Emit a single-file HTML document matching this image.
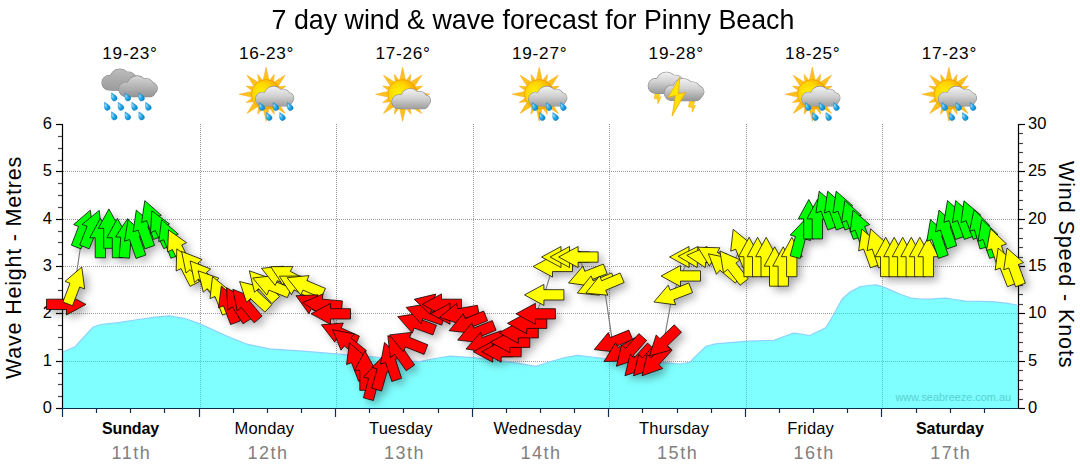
<!DOCTYPE html>
<html><head><meta charset="utf-8"><title>7 day wind &amp; wave forecast</title>
<style>
html,body{margin:0;padding:0;background:#fff;}
body{width:1080px;height:475px;position:relative;overflow:hidden;font-family:"Liberation Sans",sans-serif;color:#000;}
.title{position:absolute;left:0;top:2.8px;width:1066px;text-align:center;font-size:28px;line-height:34px;white-space:nowrap;transform:scaleX(0.957);transform-origin:532.5px 0;}
.day{position:absolute;top:419px;width:140px;text-align:center;font-size:16.5px;line-height:19px;letter-spacing:0.15px;}
.day.b{font-weight:bold;font-size:16px;letter-spacing:-0.1px;}
.dn{position:absolute;top:443.6px;width:140px;text-align:center;font-size:18px;line-height:19px;color:#808080;letter-spacing:1.5px;text-indent:1.5px;}
.tp{position:absolute;top:43.1px;width:140px;text-align:center;font-size:17.2px;line-height:20px;letter-spacing:0.75px;text-indent:0.75px;}
.yl{position:absolute;left:20px;width:32px;text-align:right;font-size:16.5px;line-height:20px;}
.yr{position:absolute;left:1028px;width:40px;text-align:left;font-size:16.5px;line-height:20px;}
.vl{position:absolute;font-size:21.5px;line-height:24px;white-space:nowrap;transform-origin:0 0;}
</style></head><body>
<div class="title">7 day wind &amp; wave forecast for Pinny Beach</div>
<div class="day b" style="left:60.5px">Sunday</div>
<div class="dn" style="left:60.6px">11th</div>
<div class="tp" style="left:59.6px">19-23°</div>
<div class="day" style="left:194.4px">Monday</div>
<div class="dn" style="left:197.2px">12th</div>
<div class="tp" style="left:196.2px">16-23°</div>
<div class="day" style="left:330.9px">Tuesday</div>
<div class="dn" style="left:333.7px">13th</div>
<div class="tp" style="left:332.7px">17-26°</div>
<div class="day" style="left:467.5px">Wednesday</div>
<div class="dn" style="left:470.3px">14th</div>
<div class="tp" style="left:469.3px">19-27°</div>
<div class="day" style="left:604.1px">Thursday</div>
<div class="dn" style="left:606.9px">15th</div>
<div class="tp" style="left:605.9px">19-28°</div>
<div class="day" style="left:740.6px">Friday</div>
<div class="dn" style="left:743.4px">16th</div>
<div class="tp" style="left:742.4px">18-25°</div>
<div class="day b" style="left:879.9px">Saturday</div>
<div class="dn" style="left:880.0px">17th</div>
<div class="tp" style="left:879.0px">17-23°</div>
<div class="yl" style="top:397.1px">0</div>
<div class="yl" style="top:349.8px">1</div>
<div class="yl" style="top:302.4px">2</div>
<div class="yl" style="top:255.1px">3</div>
<div class="yl" style="top:207.8px">4</div>
<div class="yl" style="top:160.4px">5</div>
<div class="yl" style="top:113.1px">6</div>
<div class="yr" style="top:397.1px">0</div>
<div class="yr" style="top:349.8px">5</div>
<div class="yr" style="top:302.4px">10</div>
<div class="yr" style="top:255.1px">15</div>
<div class="yr" style="top:207.8px">20</div>
<div class="yr" style="top:160.4px">25</div>
<div class="yr" style="top:113.1px">30</div>
<div class="vl" style="left:2px;top:378.5px;transform:rotate(-90deg);letter-spacing:0.8px;">Wave Height - Metres</div>
<div class="vl" style="left:1078px;top:161px;transform:rotate(90deg);letter-spacing:0.9px;">Wind Speed - Knots</div>
<svg width="1080" height="475" viewBox="0 0 1080 475" style="position:absolute;left:0;top:0">
<defs>
<filter id="sh" x="-5%" y="-20%" width="110%" height="140%"><feGaussianBlur in="SourceAlpha" stdDeviation="4.2"/><feOffset dx="4" dy="4"/><feComponentTransfer><feFuncA type="linear" slope="0.34"/></feComponentTransfer></filter>

<linearGradient id="cgL" gradientUnits="userSpaceOnUse" x1="0" y1="0" x2="0" y2="21"><stop offset="0" stop-color="#f2f2f2"/><stop offset="0.45" stop-color="#d2d2d2"/><stop offset="1" stop-color="#9a9a9a"/></linearGradient>
<linearGradient id="cgD" gradientUnits="userSpaceOnUse" x1="0" y1="0" x2="0" y2="23"><stop offset="0" stop-color="#d6d6d6"/><stop offset="0.5" stop-color="#b2b2b2"/><stop offset="1" stop-color="#8e8e8e"/></linearGradient>
<linearGradient id="cgB" gradientUnits="userSpaceOnUse" x1="0" y1="0" x2="0" y2="23"><stop offset="0" stop-color="#bcbcbc"/><stop offset="1" stop-color="#989898"/></linearGradient>
<radialGradient id="sung" cx="0.36" cy="0.45" r="0.68"><stop offset="0" stop-color="#fff200"/><stop offset="0.5" stop-color="#ffd400"/><stop offset="0.85" stop-color="#f8aa00"/><stop offset="1" stop-color="#f09000"/></radialGradient>
<radialGradient id="dropg" cx="0.35" cy="0.35" r="0.7"><stop offset="0" stop-color="#9fe0ff"/><stop offset="0.5" stop-color="#2aa8e6"/><stop offset="1" stop-color="#0a86cc"/></radialGradient>
<linearGradient id="boltg" x1="0" y1="0" x2="1" y2="1"><stop offset="0" stop-color="#fff200"/><stop offset="0.6" stop-color="#ffe000"/><stop offset="1" stop-color="#f5a800"/></linearGradient>
<filter id="ib" x="-10%" y="-10%" width="120%" height="120%"><feGaussianBlur stdDeviation="0.35"/></filter>
</defs>
<g stroke="#808080" stroke-width="1" stroke-dasharray="1,1" opacity="0.8"><line x1="63" y1="361.5" x2="1018" y2="361.5"/><line x1="63" y1="313.5" x2="1018" y2="313.5"/><line x1="63" y1="266.5" x2="1018" y2="266.5"/><line x1="63" y1="219.5" x2="1018" y2="219.5"/><line x1="63" y1="171.5" x2="1018" y2="171.5"/><line x1="200.5" y1="124" x2="200.5" y2="408"/><line x1="336.5" y1="124" x2="336.5" y2="408"/><line x1="473.5" y1="124" x2="473.5" y2="408"/><line x1="609.5" y1="124" x2="609.5" y2="408"/><line x1="746.5" y1="124" x2="746.5" y2="408"/><line x1="882.5" y1="124" x2="882.5" y2="408"/></g>
<path d="M62.5,408.5 L62.0,352.3 L75.2,346.7 L84.0,337.0 L92.9,327.3 L100.5,324.5 L118.0,322.7 L138.4,319.5 L155.0,317.2 L169.4,315.8 L185.0,318.5 L200.0,323.9 L225.0,335.3 L247.0,344.2 L269.4,348.9 L302.8,351.1 L336.0,353.9 L380.6,357.5 L405.0,360.8 L419.4,361.7 L435.0,358.5 L450.0,356.1 L472.2,357.5 L495.0,360.0 L511.0,362.2 L536.0,366.4 L550.0,361.7 L565.0,357.5 L577.8,355.3 L592.0,357.0 L605.6,358.9 L630.0,361.5 L650.0,363.0 L666.7,362.8 L680.0,364.0 L689.7,362.4 L697.0,355.0 L706.0,346.2 L715.6,343.9 L744.8,341.3 L774.0,340.3 L784.0,336.5 L793.4,333.2 L801.0,334.0 L809.6,335.5 L818.0,331.5 L825.8,327.7 L834.0,314.0 L842.0,299.2 L850.0,292.0 L859.8,286.9 L868.0,285.5 L876.0,284.9 L883.0,286.8 L890.6,290.1 L901.0,294.5 L911.7,298.2 L920.0,299.0 L929.5,299.2 L937.0,298.5 L945.7,298.2 L955.0,299.5 L965.2,301.1 L980.0,301.4 L994.3,301.8 L1006.0,303.2 L1017.0,305.0 L1018.5,305.3 L1018.5,408.5 Z" fill="#00ffff" fill-opacity="0.5"/>
<path d="M62.0,352.3 L75.2,346.7 L84.0,337.0 L92.9,327.3 L100.5,324.5 L118.0,322.7 L138.4,319.5 L155.0,317.2 L169.4,315.8 L185.0,318.5 L200.0,323.9 L225.0,335.3 L247.0,344.2 L269.4,348.9 L302.8,351.1 L336.0,353.9 L380.6,357.5 L405.0,360.8 L419.4,361.7 L435.0,358.5 L450.0,356.1 L472.2,357.5 L495.0,360.0 L511.0,362.2 L536.0,366.4 L550.0,361.7 L565.0,357.5 L577.8,355.3 L592.0,357.0 L605.6,358.9 L630.0,361.5 L650.0,363.0 L666.7,362.8 L680.0,364.0 L689.7,362.4 L697.0,355.0 L706.0,346.2 L715.6,343.9 L744.8,341.3 L774.0,340.3 L784.0,336.5 L793.4,333.2 L801.0,334.0 L809.6,335.5 L818.0,331.5 L825.8,327.7 L834.0,314.0 L842.0,299.2 L850.0,292.0 L859.8,286.9 L868.0,285.5 L876.0,284.9 L883.0,286.8 L890.6,290.1 L901.0,294.5 L911.7,298.2 L920.0,299.0 L929.5,299.2 L937.0,298.5 L945.7,298.2 L955.0,299.5 L965.2,301.1 L980.0,301.4 L994.3,301.8 L1006.0,303.2 L1017.0,305.0" fill="none" stroke="#8cd2ff" stroke-width="1.2"/>
<text x="1011" y="401" text-anchor="end" font-family="Liberation Sans, sans-serif" font-size="10.9" fill="#5ad0d0">www.seabreeze.com.au</text>
<g filter="url(#sh)" fill="#000"><polygon points="85.9,304.4 66.5,314.9 66.5,309.5 46.5,309.5 46.5,299.2 66.5,299.2 66.5,293.9"/><polygon points="81.8,267.0 84.6,288.9 79.7,287.0 72.5,305.7 62.9,302.0 70.0,283.3 65.0,281.4"/><polygon points="90.3,210.2 93.2,232.1 88.2,230.2 81.0,248.9 71.4,245.2 78.6,226.5 73.6,224.6"/><polygon points="99.2,210.4 101.7,232.3 96.7,230.3 89.2,248.8 79.7,245.0 87.1,226.4 82.2,224.4"/><polygon points="100.3,218.4 110.8,237.8 105.5,237.8 105.5,257.8 95.2,257.8 95.2,237.8 89.8,237.8"/><polygon points="108.9,208.9 119.4,228.3 114.0,228.3 114.0,248.3 103.7,248.3 103.7,228.3 98.4,228.3"/><polygon points="117.4,218.4 127.9,237.8 122.6,237.8 122.6,257.8 112.3,257.8 112.3,237.8 106.9,237.8"/><polygon points="127.7,218.5 136.4,238.7 131.1,238.2 129.4,258.2 119.1,257.3 120.8,237.3 115.5,236.9"/><polygon points="128.1,219.5 144.3,234.4 139.3,236.1 145.8,255.0 136.0,258.4 129.5,239.5 124.5,241.2"/><polygon points="136.3,210.1 152.8,224.8 147.8,226.6 154.6,245.4 144.9,248.9 138.1,230.1 133.1,231.9"/><polygon points="144.8,200.6 161.3,215.3 156.3,217.1 163.1,235.9 153.5,239.4 146.6,220.6 141.6,222.5"/><polygon points="151.8,210.8 169.5,223.9 164.6,226.2 173.1,244.3 163.8,248.7 155.3,230.5 150.5,232.8"/><polygon points="161.6,219.7 178.3,234.1 173.3,236.0 180.5,254.6 170.9,258.3 163.7,239.7 158.7,241.6"/><polygon points="168.5,229.9 186.5,242.7 181.7,245.0 190.4,263.0 181.2,267.5 172.4,249.5 167.6,251.9"/><polygon points="176.8,248.9 194.9,261.5 190.2,263.9 199.2,281.7 190.1,286.4 181.0,268.6 176.2,271.0"/><polygon points="181.6,251.4 202.1,259.5 198.0,263.0 210.8,278.3 203.0,284.9 190.1,269.6 186.0,273.0"/><polygon points="190.1,260.9 210.6,269.0 206.5,272.4 219.4,287.7 211.5,294.4 198.6,279.0 194.5,282.5"/><polygon points="198.1,270.8 218.9,278.2 214.9,281.8 228.3,296.6 220.7,303.5 207.3,288.7 203.3,292.2"/><polygon points="212.5,276.6 229.5,290.7 224.5,292.7 232.0,311.2 222.5,315.1 215.0,296.5 210.0,298.6"/><polygon points="221.3,286.0 238.1,300.3 233.1,302.2 240.3,320.9 230.6,324.6 223.5,305.9 218.5,307.8"/><polygon points="226.5,287.7 245.7,298.5 241.1,301.4 251.7,318.3 243.0,323.8 232.4,306.8 227.9,309.7"/><polygon points="232.8,289.3 253.3,297.4 249.2,300.8 262.1,316.1 254.2,322.8 241.3,307.4 237.2,310.9"/><polygon points="239.6,281.5 260.9,287.0 257.3,290.9 271.9,304.6 264.9,312.1 250.3,298.5 246.6,302.4"/><polygon points="249.3,270.8 270.1,278.2 266.2,281.8 279.5,296.6 271.9,303.5 258.5,288.7 254.5,292.2"/><polygon points="252.8,278.0 274.7,275.6 272.7,280.5 291.3,288.0 287.4,297.6 268.9,290.1 266.9,295.1"/><polygon points="261.5,268.3 283.4,266.2 281.3,271.1 299.7,278.9 295.7,288.4 277.3,280.6 275.2,285.5"/><polygon points="270.7,266.7 292.8,266.6 290.3,271.3 307.9,280.7 303.1,289.8 285.5,280.4 282.9,285.1"/><polygon points="279.3,276.2 301.3,276.0 298.8,280.7 316.5,290.1 311.6,299.2 294.0,289.8 291.5,294.6"/><polygon points="287.1,277.7 309.0,275.6 306.9,280.6 325.4,288.4 321.3,297.9 302.9,290.1 300.8,295.0"/><polygon points="296.0,295.7 318.1,294.8 315.7,299.6 333.7,308.4 329.2,317.6 311.2,308.9 308.9,313.7"/><polygon points="302.7,302.6 322.9,293.9 322.4,299.2 342.4,300.9 341.5,311.2 321.5,309.5 321.1,314.8"/><polygon points="311.1,313.8 330.5,303.3 330.5,308.7 350.5,308.7 350.5,319.0 330.5,319.0 330.5,324.3"/><polygon points="321.4,324.8 343.3,323.0 341.2,327.9 359.4,336.1 355.3,345.5 337.0,337.3 334.8,342.2"/><polygon points="332.6,329.8 354.3,333.9 350.9,338.0 366.4,350.6 360.0,358.6 344.4,346.0 341.0,350.2"/><polygon points="349.4,342.8 366.1,357.1 361.1,359.0 368.3,377.7 358.7,381.4 351.5,362.7 346.5,364.6"/><polygon points="365.0,350.9 375.5,370.3 370.1,370.3 370.1,390.3 359.8,390.3 359.8,370.3 354.5,370.3"/><polygon points="378.6,361.1 383.7,382.5 378.5,381.1 373.4,400.5 363.4,397.8 368.6,378.5 363.4,377.1"/><polygon points="387.5,351.7 392.2,373.2 387.1,371.8 381.6,391.0 371.7,388.1 377.2,368.9 372.0,367.4"/><polygon points="384.5,342.4 400.5,357.6 395.4,359.3 401.6,378.3 391.8,381.5 385.6,362.5 380.5,364.1"/><polygon points="387.8,335.6 407.5,345.4 403.2,348.5 414.6,364.9 406.2,370.8 394.7,354.4 390.3,357.5"/><polygon points="389.4,334.9 411.3,332.4 409.3,337.3 427.8,344.8 424.0,354.4 405.4,346.9 403.4,351.9"/><polygon points="397.7,316.6 419.5,313.3 417.7,318.4 436.4,325.2 432.9,334.9 414.1,328.0 412.3,333.1"/><polygon points="406.1,307.4 427.8,303.8 426.1,308.9 445.0,315.4 441.7,325.1 422.8,318.6 421.0,323.7"/><polygon points="414.2,299.3 435.7,294.1 434.3,299.3 453.6,304.5 450.9,314.4 431.6,309.3 430.2,314.4"/><polygon points="422.1,304.4 441.5,293.9 441.5,299.2 461.5,299.2 461.5,309.5 441.5,309.5 441.5,314.9"/><polygon points="430.6,313.8 450.0,303.3 450.0,308.7 470.0,308.7 470.0,319.0 450.0,319.0 450.0,324.3"/><polygon points="439.5,317.3 456.7,303.5 457.7,308.8 477.4,305.3 479.2,315.5 459.5,319.0 460.4,324.2"/><polygon points="449.1,330.7 463.2,313.7 465.2,318.6 483.7,311.1 487.6,320.7 469.0,328.2 471.0,333.1"/><polygon points="457.7,340.1 471.7,323.1 473.7,328.1 492.3,320.6 496.1,330.2 477.6,337.7 479.6,342.6"/><polygon points="466.0,349.0 480.6,332.5 482.4,337.5 501.2,330.7 504.7,340.3 485.9,347.2 487.8,352.2"/><polygon points="473.3,351.7 492.7,341.2 492.7,346.5 512.7,346.5 512.7,356.8 492.7,356.8 492.7,362.2"/><polygon points="481.8,351.7 501.2,341.2 501.2,346.5 521.2,346.5 521.2,356.8 501.2,356.8 501.2,362.2"/><polygon points="490.4,342.2 509.8,331.7 509.8,337.1 529.8,337.1 529.8,347.4 509.8,347.4 509.8,352.7"/><polygon points="498.9,332.8 518.3,322.3 518.3,327.6 538.3,327.6 538.3,337.9 518.3,337.9 518.3,343.3"/><polygon points="507.4,323.3 526.8,312.8 526.8,318.1 546.8,318.1 546.8,328.4 526.8,328.4 526.8,333.8"/><polygon points="516.0,313.8 535.4,303.3 535.4,308.7 555.4,308.7 555.4,319.0 535.4,319.0 535.4,324.3"/><polygon points="524.5,294.9 543.9,284.4 543.9,289.7 563.9,289.7 563.9,300.0 543.9,300.0 543.9,305.4"/><polygon points="533.1,266.5 552.5,256.0 552.5,261.3 572.5,261.3 572.5,271.6 552.5,271.6 552.5,277.0"/><polygon points="541.6,257.0 561.0,246.5 561.0,251.9 581.0,251.9 581.0,262.2 561.0,262.2 561.0,267.5"/><polygon points="550.1,257.0 569.5,246.5 569.5,251.9 589.5,251.9 589.5,262.2 569.5,262.2 569.5,267.5"/><polygon points="558.7,257.0 578.1,246.5 578.1,251.9 598.1,251.9 598.1,262.2 578.1,262.2 578.1,267.5"/><polygon points="568.5,283.0 582.9,266.3 584.8,271.3 603.4,264.1 607.1,273.7 588.5,280.9 590.4,285.9"/><polygon points="577.3,293.1 591.1,275.9 593.1,280.8 611.6,273.0 615.6,282.5 597.2,290.3 599.3,295.2"/><polygon points="585.8,293.1 599.6,275.9 601.7,280.8 620.1,273.0 624.1,282.5 605.7,290.3 607.8,295.2"/><polygon points="594.2,349.6 608.3,332.6 610.3,337.6 628.8,330.1 632.7,339.6 614.2,347.1 616.2,352.1"/><polygon points="604.0,361.5 615.5,342.8 618.2,347.4 635.5,337.4 640.7,346.3 623.4,356.3 626.0,360.9"/><polygon points="616.4,366.3 621.6,344.9 625.5,348.5 638.9,333.6 646.6,340.5 633.2,355.4 637.2,358.9"/><polygon points="624.9,375.8 630.1,354.4 634.1,357.9 647.5,343.1 655.1,350.0 641.7,364.8 645.7,368.4"/><polygon points="633.5,375.8 638.6,354.4 642.6,357.9 656.0,343.1 663.7,350.0 650.3,364.8 654.3,368.4"/><polygon points="642.0,375.8 647.2,354.4 651.2,357.9 664.5,343.1 672.2,350.0 658.8,364.8 662.8,368.4"/><polygon points="649.5,355.9 656.2,334.9 659.9,338.7 674.3,324.8 681.5,332.3 667.1,346.1 670.8,350.0"/><polygon points="653.9,302.0 668.2,285.2 670.1,290.2 688.8,283.0 692.5,292.6 673.8,299.8 675.7,304.8"/><polygon points="661.1,276.0 680.5,265.5 680.5,270.8 700.5,270.8 700.5,281.1 680.5,281.1 680.5,286.5"/><polygon points="669.6,257.0 689.0,246.5 689.0,251.9 709.0,251.9 709.0,262.2 689.0,262.2 689.0,267.5"/><polygon points="678.2,256.3 697.9,246.5 697.7,251.9 717.7,252.6 717.4,262.9 697.4,262.2 697.2,267.5"/><polygon points="686.8,255.3 707.0,246.5 706.5,251.9 726.5,253.6 725.6,263.9 705.7,262.1 705.2,267.5"/><polygon points="697.9,247.2 719.9,247.8 717.3,252.4 734.6,262.4 729.4,271.3 712.1,261.3 709.4,266.0"/><polygon points="708.4,253.8 730.0,258.3 726.6,262.4 741.9,275.2 735.3,283.1 719.9,270.2 716.5,274.3"/><polygon points="719.9,251.0 740.1,259.8 735.9,263.1 748.2,278.8 740.1,285.2 727.8,269.4 723.5,272.7"/><polygon points="733.2,229.3 750.2,243.3 745.2,245.4 752.7,263.9 743.1,267.8 735.7,249.2 730.7,251.2"/><polygon points="749.1,237.3 759.6,256.7 754.2,256.7 754.2,276.7 743.9,276.7 743.9,256.7 738.6,256.7"/><polygon points="757.6,237.3 768.1,256.7 762.8,256.7 762.8,276.7 752.5,276.7 752.5,256.7 747.1,256.7"/><polygon points="766.2,237.3 776.7,256.7 771.3,256.7 771.3,276.7 761.0,276.7 761.0,256.7 755.7,256.7"/><polygon points="774.7,246.8 785.2,266.2 779.8,266.2 779.8,286.2 769.5,286.2 769.5,266.2 764.2,266.2"/><polygon points="783.2,246.8 793.7,266.2 788.4,266.2 788.4,286.2 778.1,286.2 778.1,266.2 772.7,266.2"/><polygon points="791.8,237.3 802.3,256.7 796.9,256.7 796.9,276.7 786.6,276.7 786.6,256.7 781.3,256.7"/><polygon points="805.4,219.1 810.5,240.5 805.3,239.1 800.2,258.5 790.2,255.8 795.4,236.5 790.2,235.1"/><polygon points="808.8,199.5 819.3,218.9 814.0,218.9 814.0,238.9 803.7,238.9 803.7,218.9 798.3,218.9"/><polygon points="817.4,199.5 827.9,218.9 822.5,218.9 822.5,238.9 812.2,238.9 812.2,218.9 806.9,218.9"/><polygon points="819.2,191.2 835.7,205.8 830.6,207.6 837.5,226.4 827.8,230.0 821.0,211.2 815.9,213.0"/><polygon points="827.7,191.2 844.2,205.8 839.2,207.6 846.0,226.4 836.3,230.0 829.5,211.2 824.5,213.0"/><polygon points="836.2,191.2 852.7,205.8 847.7,207.6 854.6,226.4 844.9,230.0 838.0,211.2 833.0,213.0"/><polygon points="844.8,200.6 861.3,215.3 856.2,217.1 863.1,235.9 853.4,239.4 846.6,220.6 841.5,222.5"/><polygon points="853.0,210.2 869.7,224.6 864.7,226.5 871.9,245.2 862.3,248.9 855.1,230.2 850.1,232.1"/><polygon points="861.8,229.0 878.3,243.7 873.3,245.5 880.2,264.3 870.5,267.8 863.6,249.0 858.6,250.9"/><polygon points="870.7,228.9 887.0,243.9 881.9,245.6 888.4,264.5 878.7,267.9 872.2,249.0 867.1,250.7"/><polygon points="885.7,237.3 896.2,256.7 890.8,256.7 890.8,276.7 880.5,276.7 880.5,256.7 875.2,256.7"/><polygon points="894.2,237.3 904.7,256.7 899.3,256.7 899.3,276.7 889.0,276.7 889.0,256.7 883.7,256.7"/><polygon points="902.7,237.3 913.2,256.7 907.9,256.7 907.9,276.7 897.6,276.7 897.6,256.7 892.2,256.7"/><polygon points="911.3,237.3 921.8,256.7 916.4,256.7 916.4,276.7 906.1,276.7 906.1,256.7 900.8,256.7"/><polygon points="919.8,237.3 930.3,256.7 924.9,256.7 924.9,276.7 914.6,276.7 914.6,256.7 909.3,256.7"/><polygon points="928.3,237.3 938.8,256.7 933.5,256.7 933.5,276.7 923.2,276.7 923.2,256.7 917.8,256.7"/><polygon points="930.5,219.5 946.7,234.4 941.6,236.1 948.2,255.0 938.4,258.4 931.9,239.5 926.8,241.2"/><polygon points="939.0,210.0 955.2,224.9 950.2,226.7 956.7,245.6 947.0,248.9 940.4,230.0 935.4,231.8"/><polygon points="947.5,200.5 963.8,215.5 958.7,217.2 965.2,236.1 955.5,239.5 949.0,220.6 943.9,222.3"/><polygon points="955.7,200.6 972.2,215.3 967.2,217.1 974.1,235.9 964.4,239.4 957.5,220.6 952.5,222.5"/><polygon points="964.0,200.8 980.7,215.1 975.7,217.0 982.9,235.7 973.3,239.4 966.1,220.7 961.1,222.6"/><polygon points="974.1,209.7 989.6,225.4 984.4,226.9 989.9,246.1 980.0,249.0 974.5,229.8 969.4,231.2"/><polygon points="981.7,219.5 997.9,234.4 992.9,236.1 999.4,255.0 989.6,258.4 983.1,239.5 978.1,241.2"/><polygon points="990.5,228.8 1006.5,244.0 1001.4,245.7 1007.6,264.7 997.8,267.9 991.6,248.9 986.5,250.5"/><polygon points="998.1,248.1 1014.9,262.5 1009.9,264.4 1017.0,283.0 1007.4,286.7 1000.2,268.1 995.2,270.0"/><polygon points="1007.0,248.0 1023.5,262.6 1018.4,264.5 1025.3,283.2 1015.6,286.8 1008.8,268.0 1003.7,269.8"/></g>
<polyline points="66.2,304.4 74.7,285.4 83.3,228.6 91.8,228.6 100.3,238.1 108.9,228.6 117.4,238.1 126.0,238.1 134.5,238.1 143.0,228.6 151.6,219.2 160.1,228.6 168.6,238.1 177.2,247.6 185.7,266.5 194.2,266.5 202.8,276.0 211.3,285.4 219.8,294.9 228.4,304.4 236.9,304.4 245.5,304.4 254.0,294.9 262.5,285.4 271.1,285.4 279.6,276.0 288.1,276.0 296.7,285.4 305.2,285.4 313.7,304.4 322.3,304.4 330.8,313.8 339.4,332.8 347.9,342.2 356.4,361.2 365.0,370.6 373.5,380.1 382.0,370.6 390.6,361.2 399.1,351.7 407.6,342.2 416.2,323.3 424.7,313.8 433.2,304.4 441.8,304.4 450.3,313.8 458.9,313.8 467.4,323.3 475.9,332.8 484.5,342.2 493.0,351.7 501.5,351.7 510.1,342.2 518.6,332.8 527.1,323.3 535.7,313.8 544.2,294.9 552.8,266.5 561.3,257.0 569.8,257.0 578.4,257.0 586.9,276.0 595.4,285.4 604.0,285.4 612.5,342.2 621.0,351.7 629.6,351.7 638.1,361.2 646.6,361.2 655.2,361.2 663.7,342.2 672.3,294.9 680.8,276.0 689.3,257.0 697.9,257.0 706.4,257.0 714.9,257.0 723.5,266.5 732.0,266.5 740.5,247.6 749.1,257.0 757.6,257.0 766.2,257.0 774.7,266.5 783.2,266.5 791.8,257.0 800.3,238.1 808.8,219.2 817.4,219.2 825.9,209.7 834.4,209.7 843.0,209.7 851.5,219.2 860.0,228.6 868.6,247.6 877.1,247.6 885.7,257.0 894.2,257.0 902.7,257.0 911.3,257.0 919.8,257.0 928.3,257.0 936.9,238.1 945.4,228.6 953.9,219.2 962.5,219.2 971.0,219.2 979.6,228.6 988.1,238.1 996.6,247.6 1005.2,266.5 1013.7,266.5" fill="none" stroke="#787878" stroke-width="1.1"/>
<g stroke="#000" stroke-width="1.2"><line x1="62.5" y1="124" x2="62.5" y2="409"/><line x1="1018.5" y1="124" x2="1018.5" y2="409"/><line x1="56" y1="408.5" x2="62" y2="408.5"/><line x1="58" y1="396.5" x2="62" y2="396.5" stroke="#444"/><line x1="58" y1="384.5" x2="62" y2="384.5" stroke="#444"/><line x1="58" y1="373.5" x2="62" y2="373.5" stroke="#444"/><line x1="56" y1="361.5" x2="62" y2="361.5"/><line x1="58" y1="349.5" x2="62" y2="349.5" stroke="#444"/><line x1="58" y1="337.5" x2="62" y2="337.5" stroke="#444"/><line x1="58" y1="325.5" x2="62" y2="325.5" stroke="#444"/><line x1="56" y1="313.5" x2="62" y2="313.5"/><line x1="58" y1="302.5" x2="62" y2="302.5" stroke="#444"/><line x1="58" y1="290.5" x2="62" y2="290.5" stroke="#444"/><line x1="58" y1="278.5" x2="62" y2="278.5" stroke="#444"/><line x1="56" y1="266.5" x2="62" y2="266.5"/><line x1="58" y1="254.5" x2="62" y2="254.5" stroke="#444"/><line x1="58" y1="242.5" x2="62" y2="242.5" stroke="#444"/><line x1="58" y1="231.5" x2="62" y2="231.5" stroke="#444"/><line x1="56" y1="219.5" x2="62" y2="219.5"/><line x1="58" y1="207.5" x2="62" y2="207.5" stroke="#444"/><line x1="58" y1="195.5" x2="62" y2="195.5" stroke="#444"/><line x1="58" y1="183.5" x2="62" y2="183.5" stroke="#444"/><line x1="56" y1="171.5" x2="62" y2="171.5"/><line x1="58" y1="160.5" x2="62" y2="160.5" stroke="#444"/><line x1="58" y1="148.5" x2="62" y2="148.5" stroke="#444"/><line x1="58" y1="136.5" x2="62" y2="136.5" stroke="#444"/><line x1="56" y1="124.5" x2="62" y2="124.5"/><line x1="1019" y1="408.5" x2="1025" y2="408.5"/><line x1="1019" y1="399.5" x2="1023" y2="399.5" stroke="#444"/><line x1="1019" y1="389.5" x2="1023" y2="389.5" stroke="#444"/><line x1="1019" y1="380.5" x2="1023" y2="380.5" stroke="#444"/><line x1="1019" y1="370.5" x2="1023" y2="370.5" stroke="#444"/><line x1="1019" y1="361.5" x2="1025" y2="361.5"/><line x1="1019" y1="351.5" x2="1023" y2="351.5" stroke="#444"/><line x1="1019" y1="342.5" x2="1023" y2="342.5" stroke="#444"/><line x1="1019" y1="332.5" x2="1023" y2="332.5" stroke="#444"/><line x1="1019" y1="323.5" x2="1023" y2="323.5" stroke="#444"/><line x1="1019" y1="313.5" x2="1025" y2="313.5"/><line x1="1019" y1="304.5" x2="1023" y2="304.5" stroke="#444"/><line x1="1019" y1="294.5" x2="1023" y2="294.5" stroke="#444"/><line x1="1019" y1="285.5" x2="1023" y2="285.5" stroke="#444"/><line x1="1019" y1="275.5" x2="1023" y2="275.5" stroke="#444"/><line x1="1019" y1="266.5" x2="1025" y2="266.5"/><line x1="1019" y1="257.5" x2="1023" y2="257.5" stroke="#444"/><line x1="1019" y1="247.5" x2="1023" y2="247.5" stroke="#444"/><line x1="1019" y1="238.5" x2="1023" y2="238.5" stroke="#444"/><line x1="1019" y1="228.5" x2="1023" y2="228.5" stroke="#444"/><line x1="1019" y1="219.5" x2="1025" y2="219.5"/><line x1="1019" y1="209.5" x2="1023" y2="209.5" stroke="#444"/><line x1="1019" y1="200.5" x2="1023" y2="200.5" stroke="#444"/><line x1="1019" y1="190.5" x2="1023" y2="190.5" stroke="#444"/><line x1="1019" y1="181.5" x2="1023" y2="181.5" stroke="#444"/><line x1="1019" y1="171.5" x2="1025" y2="171.5"/><line x1="1019" y1="162.5" x2="1023" y2="162.5" stroke="#444"/><line x1="1019" y1="152.5" x2="1023" y2="152.5" stroke="#444"/><line x1="1019" y1="143.5" x2="1023" y2="143.5" stroke="#444"/><line x1="1019" y1="133.5" x2="1023" y2="133.5" stroke="#444"/><line x1="1019" y1="124.5" x2="1025" y2="124.5"/></g>
<g stroke="#0b2f4f" stroke-width="1.2"><line x1="62" y1="408.5" x2="1019" y2="408.5"/><line x1="62.5" y1="408" x2="62.5" y2="417"/><line x1="96.5" y1="408" x2="96.5" y2="413"/><line x1="130.5" y1="408" x2="130.5" y2="413"/><line x1="164.5" y1="408" x2="164.5" y2="413"/><line x1="199.5" y1="408" x2="199.5" y2="417"/><line x1="233.5" y1="408" x2="233.5" y2="413"/><line x1="267.5" y1="408" x2="267.5" y2="413"/><line x1="301.5" y1="408" x2="301.5" y2="413"/><line x1="335.5" y1="408" x2="335.5" y2="417"/><line x1="369.5" y1="408" x2="369.5" y2="413"/><line x1="403.5" y1="408" x2="403.5" y2="413"/><line x1="438.5" y1="408" x2="438.5" y2="413"/><line x1="472.5" y1="408" x2="472.5" y2="417"/><line x1="506.5" y1="408" x2="506.5" y2="413"/><line x1="540.5" y1="408" x2="540.5" y2="413"/><line x1="574.5" y1="408" x2="574.5" y2="413"/><line x1="608.5" y1="408" x2="608.5" y2="417"/><line x1="642.5" y1="408" x2="642.5" y2="413"/><line x1="677.5" y1="408" x2="677.5" y2="413"/><line x1="711.5" y1="408" x2="711.5" y2="413"/><line x1="745.5" y1="408" x2="745.5" y2="417"/><line x1="779.5" y1="408" x2="779.5" y2="413"/><line x1="813.5" y1="408" x2="813.5" y2="413"/><line x1="847.5" y1="408" x2="847.5" y2="413"/><line x1="881.5" y1="408" x2="881.5" y2="417"/><line x1="916.5" y1="408" x2="916.5" y2="413"/><line x1="950.5" y1="408" x2="950.5" y2="413"/><line x1="984.5" y1="408" x2="984.5" y2="413"/></g>
<g stroke="#000" stroke-width="0.75" stroke-linejoin="miter"><polygon points="85.9,304.4 66.5,314.9 66.5,309.5 46.5,309.5 46.5,299.2 66.5,299.2 66.5,293.9" fill="#ff0000"/><polygon points="81.8,267.0 84.6,288.9 79.7,287.0 72.5,305.7 62.9,302.0 70.0,283.3 65.0,281.4" fill="#ffff00"/><polygon points="90.3,210.2 93.2,232.1 88.2,230.2 81.0,248.9 71.4,245.2 78.6,226.5 73.6,224.6" fill="#00ff00"/><polygon points="99.2,210.4 101.7,232.3 96.7,230.3 89.2,248.8 79.7,245.0 87.1,226.4 82.2,224.4" fill="#00ff00"/><polygon points="100.3,218.4 110.8,237.8 105.5,237.8 105.5,257.8 95.2,257.8 95.2,237.8 89.8,237.8" fill="#00ff00"/><polygon points="108.9,208.9 119.4,228.3 114.0,228.3 114.0,248.3 103.7,248.3 103.7,228.3 98.4,228.3" fill="#00ff00"/><polygon points="117.4,218.4 127.9,237.8 122.6,237.8 122.6,257.8 112.3,257.8 112.3,237.8 106.9,237.8" fill="#00ff00"/><polygon points="127.7,218.5 136.4,238.7 131.1,238.2 129.4,258.2 119.1,257.3 120.8,237.3 115.5,236.9" fill="#00ff00"/><polygon points="128.1,219.5 144.3,234.4 139.3,236.1 145.8,255.0 136.0,258.4 129.5,239.5 124.5,241.2" fill="#00ff00"/><polygon points="136.3,210.1 152.8,224.8 147.8,226.6 154.6,245.4 144.9,248.9 138.1,230.1 133.1,231.9" fill="#00ff00"/><polygon points="144.8,200.6 161.3,215.3 156.3,217.1 163.1,235.9 153.5,239.4 146.6,220.6 141.6,222.5" fill="#00ff00"/><polygon points="151.8,210.8 169.5,223.9 164.6,226.2 173.1,244.3 163.8,248.7 155.3,230.5 150.5,232.8" fill="#00ff00"/><polygon points="161.6,219.7 178.3,234.1 173.3,236.0 180.5,254.6 170.9,258.3 163.7,239.7 158.7,241.6" fill="#00ff00"/><polygon points="168.5,229.9 186.5,242.7 181.7,245.0 190.4,263.0 181.2,267.5 172.4,249.5 167.6,251.9" fill="#ffff00"/><polygon points="176.8,248.9 194.9,261.5 190.2,263.9 199.2,281.7 190.1,286.4 181.0,268.6 176.2,271.0" fill="#ffff00"/><polygon points="181.6,251.4 202.1,259.5 198.0,263.0 210.8,278.3 203.0,284.9 190.1,269.6 186.0,273.0" fill="#ffff00"/><polygon points="190.1,260.9 210.6,269.0 206.5,272.4 219.4,287.7 211.5,294.4 198.6,279.0 194.5,282.5" fill="#ffff00"/><polygon points="198.1,270.8 218.9,278.2 214.9,281.8 228.3,296.6 220.7,303.5 207.3,288.7 203.3,292.2" fill="#ffff00"/><polygon points="212.5,276.6 229.5,290.7 224.5,292.7 232.0,311.2 222.5,315.1 215.0,296.5 210.0,298.6" fill="#ffff00"/><polygon points="221.3,286.0 238.1,300.3 233.1,302.2 240.3,320.9 230.6,324.6 223.5,305.9 218.5,307.8" fill="#ff0000"/><polygon points="226.5,287.7 245.7,298.5 241.1,301.4 251.7,318.3 243.0,323.8 232.4,306.8 227.9,309.7" fill="#ff0000"/><polygon points="232.8,289.3 253.3,297.4 249.2,300.8 262.1,316.1 254.2,322.8 241.3,307.4 237.2,310.9" fill="#ff0000"/><polygon points="239.6,281.5 260.9,287.0 257.3,290.9 271.9,304.6 264.9,312.1 250.3,298.5 246.6,302.4" fill="#ffff00"/><polygon points="249.3,270.8 270.1,278.2 266.2,281.8 279.5,296.6 271.9,303.5 258.5,288.7 254.5,292.2" fill="#ffff00"/><polygon points="252.8,278.0 274.7,275.6 272.7,280.5 291.3,288.0 287.4,297.6 268.9,290.1 266.9,295.1" fill="#ffff00"/><polygon points="261.5,268.3 283.4,266.2 281.3,271.1 299.7,278.9 295.7,288.4 277.3,280.6 275.2,285.5" fill="#ffff00"/><polygon points="270.7,266.7 292.8,266.6 290.3,271.3 307.9,280.7 303.1,289.8 285.5,280.4 282.9,285.1" fill="#ffff00"/><polygon points="279.3,276.2 301.3,276.0 298.8,280.7 316.5,290.1 311.6,299.2 294.0,289.8 291.5,294.6" fill="#ffff00"/><polygon points="287.1,277.7 309.0,275.6 306.9,280.6 325.4,288.4 321.3,297.9 302.9,290.1 300.8,295.0" fill="#ffff00"/><polygon points="296.0,295.7 318.1,294.8 315.7,299.6 333.7,308.4 329.2,317.6 311.2,308.9 308.9,313.7" fill="#ff0000"/><polygon points="302.7,302.6 322.9,293.9 322.4,299.2 342.4,300.9 341.5,311.2 321.5,309.5 321.1,314.8" fill="#ff0000"/><polygon points="311.1,313.8 330.5,303.3 330.5,308.7 350.5,308.7 350.5,319.0 330.5,319.0 330.5,324.3" fill="#ff0000"/><polygon points="321.4,324.8 343.3,323.0 341.2,327.9 359.4,336.1 355.3,345.5 337.0,337.3 334.8,342.2" fill="#ff0000"/><polygon points="332.6,329.8 354.3,333.9 350.9,338.0 366.4,350.6 360.0,358.6 344.4,346.0 341.0,350.2" fill="#ff0000"/><polygon points="349.4,342.8 366.1,357.1 361.1,359.0 368.3,377.7 358.7,381.4 351.5,362.7 346.5,364.6" fill="#ff0000"/><polygon points="365.0,350.9 375.5,370.3 370.1,370.3 370.1,390.3 359.8,390.3 359.8,370.3 354.5,370.3" fill="#ff0000"/><polygon points="378.6,361.1 383.7,382.5 378.5,381.1 373.4,400.5 363.4,397.8 368.6,378.5 363.4,377.1" fill="#ff0000"/><polygon points="387.5,351.7 392.2,373.2 387.1,371.8 381.6,391.0 371.7,388.1 377.2,368.9 372.0,367.4" fill="#ff0000"/><polygon points="384.5,342.4 400.5,357.6 395.4,359.3 401.6,378.3 391.8,381.5 385.6,362.5 380.5,364.1" fill="#ff0000"/><polygon points="387.8,335.6 407.5,345.4 403.2,348.5 414.6,364.9 406.2,370.8 394.7,354.4 390.3,357.5" fill="#ff0000"/><polygon points="389.4,334.9 411.3,332.4 409.3,337.3 427.8,344.8 424.0,354.4 405.4,346.9 403.4,351.9" fill="#ff0000"/><polygon points="397.7,316.6 419.5,313.3 417.7,318.4 436.4,325.2 432.9,334.9 414.1,328.0 412.3,333.1" fill="#ff0000"/><polygon points="406.1,307.4 427.8,303.8 426.1,308.9 445.0,315.4 441.7,325.1 422.8,318.6 421.0,323.7" fill="#ff0000"/><polygon points="414.2,299.3 435.7,294.1 434.3,299.3 453.6,304.5 450.9,314.4 431.6,309.3 430.2,314.4" fill="#ff0000"/><polygon points="422.1,304.4 441.5,293.9 441.5,299.2 461.5,299.2 461.5,309.5 441.5,309.5 441.5,314.9" fill="#ff0000"/><polygon points="430.6,313.8 450.0,303.3 450.0,308.7 470.0,308.7 470.0,319.0 450.0,319.0 450.0,324.3" fill="#ff0000"/><polygon points="439.5,317.3 456.7,303.5 457.7,308.8 477.4,305.3 479.2,315.5 459.5,319.0 460.4,324.2" fill="#ff0000"/><polygon points="449.1,330.7 463.2,313.7 465.2,318.6 483.7,311.1 487.6,320.7 469.0,328.2 471.0,333.1" fill="#ff0000"/><polygon points="457.7,340.1 471.7,323.1 473.7,328.1 492.3,320.6 496.1,330.2 477.6,337.7 479.6,342.6" fill="#ff0000"/><polygon points="466.0,349.0 480.6,332.5 482.4,337.5 501.2,330.7 504.7,340.3 485.9,347.2 487.8,352.2" fill="#ff0000"/><polygon points="473.3,351.7 492.7,341.2 492.7,346.5 512.7,346.5 512.7,356.8 492.7,356.8 492.7,362.2" fill="#ff0000"/><polygon points="481.8,351.7 501.2,341.2 501.2,346.5 521.2,346.5 521.2,356.8 501.2,356.8 501.2,362.2" fill="#ff0000"/><polygon points="490.4,342.2 509.8,331.7 509.8,337.1 529.8,337.1 529.8,347.4 509.8,347.4 509.8,352.7" fill="#ff0000"/><polygon points="498.9,332.8 518.3,322.3 518.3,327.6 538.3,327.6 538.3,337.9 518.3,337.9 518.3,343.3" fill="#ff0000"/><polygon points="507.4,323.3 526.8,312.8 526.8,318.1 546.8,318.1 546.8,328.4 526.8,328.4 526.8,333.8" fill="#ff0000"/><polygon points="516.0,313.8 535.4,303.3 535.4,308.7 555.4,308.7 555.4,319.0 535.4,319.0 535.4,324.3" fill="#ff0000"/><polygon points="524.5,294.9 543.9,284.4 543.9,289.7 563.9,289.7 563.9,300.0 543.9,300.0 543.9,305.4" fill="#ffff00"/><polygon points="533.1,266.5 552.5,256.0 552.5,261.3 572.5,261.3 572.5,271.6 552.5,271.6 552.5,277.0" fill="#ffff00"/><polygon points="541.6,257.0 561.0,246.5 561.0,251.9 581.0,251.9 581.0,262.2 561.0,262.2 561.0,267.5" fill="#ffff00"/><polygon points="550.1,257.0 569.5,246.5 569.5,251.9 589.5,251.9 589.5,262.2 569.5,262.2 569.5,267.5" fill="#ffff00"/><polygon points="558.7,257.0 578.1,246.5 578.1,251.9 598.1,251.9 598.1,262.2 578.1,262.2 578.1,267.5" fill="#ffff00"/><polygon points="568.5,283.0 582.9,266.3 584.8,271.3 603.4,264.1 607.1,273.7 588.5,280.9 590.4,285.9" fill="#ffff00"/><polygon points="577.3,293.1 591.1,275.9 593.1,280.8 611.6,273.0 615.6,282.5 597.2,290.3 599.3,295.2" fill="#ffff00"/><polygon points="585.8,293.1 599.6,275.9 601.7,280.8 620.1,273.0 624.1,282.5 605.7,290.3 607.8,295.2" fill="#ffff00"/><polygon points="594.2,349.6 608.3,332.6 610.3,337.6 628.8,330.1 632.7,339.6 614.2,347.1 616.2,352.1" fill="#ff0000"/><polygon points="604.0,361.5 615.5,342.8 618.2,347.4 635.5,337.4 640.7,346.3 623.4,356.3 626.0,360.9" fill="#ff0000"/><polygon points="616.4,366.3 621.6,344.9 625.5,348.5 638.9,333.6 646.6,340.5 633.2,355.4 637.2,358.9" fill="#ff0000"/><polygon points="624.9,375.8 630.1,354.4 634.1,357.9 647.5,343.1 655.1,350.0 641.7,364.8 645.7,368.4" fill="#ff0000"/><polygon points="633.5,375.8 638.6,354.4 642.6,357.9 656.0,343.1 663.7,350.0 650.3,364.8 654.3,368.4" fill="#ff0000"/><polygon points="642.0,375.8 647.2,354.4 651.2,357.9 664.5,343.1 672.2,350.0 658.8,364.8 662.8,368.4" fill="#ff0000"/><polygon points="649.5,355.9 656.2,334.9 659.9,338.7 674.3,324.8 681.5,332.3 667.1,346.1 670.8,350.0" fill="#ff0000"/><polygon points="653.9,302.0 668.2,285.2 670.1,290.2 688.8,283.0 692.5,292.6 673.8,299.8 675.7,304.8" fill="#ffff00"/><polygon points="661.1,276.0 680.5,265.5 680.5,270.8 700.5,270.8 700.5,281.1 680.5,281.1 680.5,286.5" fill="#ffff00"/><polygon points="669.6,257.0 689.0,246.5 689.0,251.9 709.0,251.9 709.0,262.2 689.0,262.2 689.0,267.5" fill="#ffff00"/><polygon points="678.2,256.3 697.9,246.5 697.7,251.9 717.7,252.6 717.4,262.9 697.4,262.2 697.2,267.5" fill="#ffff00"/><polygon points="686.8,255.3 707.0,246.5 706.5,251.9 726.5,253.6 725.6,263.9 705.7,262.1 705.2,267.5" fill="#ffff00"/><polygon points="697.9,247.2 719.9,247.8 717.3,252.4 734.6,262.4 729.4,271.3 712.1,261.3 709.4,266.0" fill="#ffff00"/><polygon points="708.4,253.8 730.0,258.3 726.6,262.4 741.9,275.2 735.3,283.1 719.9,270.2 716.5,274.3" fill="#ffff00"/><polygon points="719.9,251.0 740.1,259.8 735.9,263.1 748.2,278.8 740.1,285.2 727.8,269.4 723.5,272.7" fill="#ffff00"/><polygon points="733.2,229.3 750.2,243.3 745.2,245.4 752.7,263.9 743.1,267.8 735.7,249.2 730.7,251.2" fill="#ffff00"/><polygon points="749.1,237.3 759.6,256.7 754.2,256.7 754.2,276.7 743.9,276.7 743.9,256.7 738.6,256.7" fill="#ffff00"/><polygon points="757.6,237.3 768.1,256.7 762.8,256.7 762.8,276.7 752.5,276.7 752.5,256.7 747.1,256.7" fill="#ffff00"/><polygon points="766.2,237.3 776.7,256.7 771.3,256.7 771.3,276.7 761.0,276.7 761.0,256.7 755.7,256.7" fill="#ffff00"/><polygon points="774.7,246.8 785.2,266.2 779.8,266.2 779.8,286.2 769.5,286.2 769.5,266.2 764.2,266.2" fill="#ffff00"/><polygon points="783.2,246.8 793.7,266.2 788.4,266.2 788.4,286.2 778.1,286.2 778.1,266.2 772.7,266.2" fill="#ffff00"/><polygon points="791.8,237.3 802.3,256.7 796.9,256.7 796.9,276.7 786.6,276.7 786.6,256.7 781.3,256.7" fill="#ffff00"/><polygon points="805.4,219.1 810.5,240.5 805.3,239.1 800.2,258.5 790.2,255.8 795.4,236.5 790.2,235.1" fill="#00ff00"/><polygon points="808.8,199.5 819.3,218.9 814.0,218.9 814.0,238.9 803.7,238.9 803.7,218.9 798.3,218.9" fill="#00ff00"/><polygon points="817.4,199.5 827.9,218.9 822.5,218.9 822.5,238.9 812.2,238.9 812.2,218.9 806.9,218.9" fill="#00ff00"/><polygon points="819.2,191.2 835.7,205.8 830.6,207.6 837.5,226.4 827.8,230.0 821.0,211.2 815.9,213.0" fill="#00ff00"/><polygon points="827.7,191.2 844.2,205.8 839.2,207.6 846.0,226.4 836.3,230.0 829.5,211.2 824.5,213.0" fill="#00ff00"/><polygon points="836.2,191.2 852.7,205.8 847.7,207.6 854.6,226.4 844.9,230.0 838.0,211.2 833.0,213.0" fill="#00ff00"/><polygon points="844.8,200.6 861.3,215.3 856.2,217.1 863.1,235.9 853.4,239.4 846.6,220.6 841.5,222.5" fill="#00ff00"/><polygon points="853.0,210.2 869.7,224.6 864.7,226.5 871.9,245.2 862.3,248.9 855.1,230.2 850.1,232.1" fill="#00ff00"/><polygon points="861.8,229.0 878.3,243.7 873.3,245.5 880.2,264.3 870.5,267.8 863.6,249.0 858.6,250.9" fill="#ffff00"/><polygon points="870.7,228.9 887.0,243.9 881.9,245.6 888.4,264.5 878.7,267.9 872.2,249.0 867.1,250.7" fill="#ffff00"/><polygon points="885.7,237.3 896.2,256.7 890.8,256.7 890.8,276.7 880.5,276.7 880.5,256.7 875.2,256.7" fill="#ffff00"/><polygon points="894.2,237.3 904.7,256.7 899.3,256.7 899.3,276.7 889.0,276.7 889.0,256.7 883.7,256.7" fill="#ffff00"/><polygon points="902.7,237.3 913.2,256.7 907.9,256.7 907.9,276.7 897.6,276.7 897.6,256.7 892.2,256.7" fill="#ffff00"/><polygon points="911.3,237.3 921.8,256.7 916.4,256.7 916.4,276.7 906.1,276.7 906.1,256.7 900.8,256.7" fill="#ffff00"/><polygon points="919.8,237.3 930.3,256.7 924.9,256.7 924.9,276.7 914.6,276.7 914.6,256.7 909.3,256.7" fill="#ffff00"/><polygon points="928.3,237.3 938.8,256.7 933.5,256.7 933.5,276.7 923.2,276.7 923.2,256.7 917.8,256.7" fill="#ffff00"/><polygon points="930.5,219.5 946.7,234.4 941.6,236.1 948.2,255.0 938.4,258.4 931.9,239.5 926.8,241.2" fill="#00ff00"/><polygon points="939.0,210.0 955.2,224.9 950.2,226.7 956.7,245.6 947.0,248.9 940.4,230.0 935.4,231.8" fill="#00ff00"/><polygon points="947.5,200.5 963.8,215.5 958.7,217.2 965.2,236.1 955.5,239.5 949.0,220.6 943.9,222.3" fill="#00ff00"/><polygon points="955.7,200.6 972.2,215.3 967.2,217.1 974.1,235.9 964.4,239.4 957.5,220.6 952.5,222.5" fill="#00ff00"/><polygon points="964.0,200.8 980.7,215.1 975.7,217.0 982.9,235.7 973.3,239.4 966.1,220.7 961.1,222.6" fill="#00ff00"/><polygon points="974.1,209.7 989.6,225.4 984.4,226.9 989.9,246.1 980.0,249.0 974.5,229.8 969.4,231.2" fill="#00ff00"/><polygon points="981.7,219.5 997.9,234.4 992.9,236.1 999.4,255.0 989.6,258.4 983.1,239.5 978.1,241.2" fill="#00ff00"/><polygon points="990.5,228.8 1006.5,244.0 1001.4,245.7 1007.6,264.7 997.8,267.9 991.6,248.9 986.5,250.5" fill="#ffff00"/><polygon points="998.1,248.1 1014.9,262.5 1009.9,264.4 1017.0,283.0 1007.4,286.7 1000.2,268.1 995.2,270.0" fill="#ffff00"/><polygon points="1007.0,248.0 1023.5,262.6 1018.4,264.5 1025.3,283.2 1015.6,286.8 1008.8,268.0 1003.7,269.8" fill="#ffff00"/></g>
<g filter="url(#ib)"><g transform="translate(102.7,69.1)"><g fill="#848484" stroke="#848484" stroke-width="1.1"><circle cx="6.53" cy="13.60" r="7.20"/><circle cx="17.05" cy="10.00" r="10.00"/><circle cx="25.84" cy="10.50" r="7.50"/><circle cx="30.83" cy="12.50" r="5.70"/><rect x="3.63" y="11.00" width="30.38" height="10.00" rx="5.50"/></g><g fill="url(#cgB)"><circle cx="6.53" cy="13.60" r="7.20"/><circle cx="17.05" cy="10.00" r="10.00"/><circle cx="25.84" cy="10.50" r="7.50"/><circle cx="30.83" cy="12.50" r="5.70"/><rect x="3.63" y="11.00" width="30.38" height="10.00" rx="5.50"/></g></g><g transform="translate(119.1,75.9)"><g fill="#848484" stroke="#848484" stroke-width="1.1"><circle cx="6.89" cy="13.47" r="7.13"/><circle cx="17.99" cy="9.90" r="9.90"/><circle cx="27.28" cy="10.40" r="7.43"/><circle cx="32.54" cy="12.38" r="5.65"/><rect x="3.83" y="10.90" width="32.07" height="9.90" rx="5.45"/></g><g fill="url(#cgD)"><circle cx="6.89" cy="13.47" r="7.13"/><circle cx="17.99" cy="9.90" r="9.90"/><circle cx="27.28" cy="10.40" r="7.43"/><circle cx="32.54" cy="12.38" r="5.65"/><rect x="3.83" y="10.90" width="32.07" height="9.90" rx="5.45"/></g></g><g transform="translate(113.7,97.0) rotate(-28) scale(0.9)"><path d="M0,-5.2 C1.2,-2.6 3.1,-0.6 3.1,1.5 A3.1,3.1 0 1 1 -3.1,1.5 C-3.1,-0.6 -1.2,-2.6 0,-5.2 Z" fill="url(#dropg)" stroke="#0b7fc4" stroke-width="0.4"/></g><g transform="translate(127.3,97.0) rotate(-28) scale(0.9)"><path d="M0,-5.2 C1.2,-2.6 3.1,-0.6 3.1,1.5 A3.1,3.1 0 1 1 -3.1,1.5 C-3.1,-0.6 -1.2,-2.6 0,-5.2 Z" fill="url(#dropg)" stroke="#0b7fc4" stroke-width="0.4"/></g><g transform="translate(141.0,97.0) rotate(-28) scale(0.9)"><path d="M0,-5.2 C1.2,-2.6 3.1,-0.6 3.1,1.5 A3.1,3.1 0 1 1 -3.1,1.5 C-3.1,-0.6 -1.2,-2.6 0,-5.2 Z" fill="url(#dropg)" stroke="#0b7fc4" stroke-width="0.4"/></g><g transform="translate(106.7,106.4) rotate(-28) scale(0.9)"><path d="M0,-5.2 C1.2,-2.6 3.1,-0.6 3.1,1.5 A3.1,3.1 0 1 1 -3.1,1.5 C-3.1,-0.6 -1.2,-2.6 0,-5.2 Z" fill="url(#dropg)" stroke="#0b7fc4" stroke-width="0.4"/></g><g transform="translate(120.4,106.4) rotate(-28) scale(0.9)"><path d="M0,-5.2 C1.2,-2.6 3.1,-0.6 3.1,1.5 A3.1,3.1 0 1 1 -3.1,1.5 C-3.1,-0.6 -1.2,-2.6 0,-5.2 Z" fill="url(#dropg)" stroke="#0b7fc4" stroke-width="0.4"/></g><g transform="translate(134.0,106.4) rotate(-28) scale(0.9)"><path d="M0,-5.2 C1.2,-2.6 3.1,-0.6 3.1,1.5 A3.1,3.1 0 1 1 -3.1,1.5 C-3.1,-0.6 -1.2,-2.6 0,-5.2 Z" fill="url(#dropg)" stroke="#0b7fc4" stroke-width="0.4"/></g><g transform="translate(147.8,106.4) rotate(-28) scale(0.9)"><path d="M0,-5.2 C1.2,-2.6 3.1,-0.6 3.1,1.5 A3.1,3.1 0 1 1 -3.1,1.5 C-3.1,-0.6 -1.2,-2.6 0,-5.2 Z" fill="url(#dropg)" stroke="#0b7fc4" stroke-width="0.4"/></g><g transform="translate(113.7,116.0) rotate(-28) scale(0.9)"><path d="M0,-5.2 C1.2,-2.6 3.1,-0.6 3.1,1.5 A3.1,3.1 0 1 1 -3.1,1.5 C-3.1,-0.6 -1.2,-2.6 0,-5.2 Z" fill="url(#dropg)" stroke="#0b7fc4" stroke-width="0.4"/></g><g transform="translate(127.3,116.0) rotate(-28) scale(0.9)"><path d="M0,-5.2 C1.2,-2.6 3.1,-0.6 3.1,1.5 A3.1,3.1 0 1 1 -3.1,1.5 C-3.1,-0.6 -1.2,-2.6 0,-5.2 Z" fill="url(#dropg)" stroke="#0b7fc4" stroke-width="0.4"/></g><g transform="translate(141.0,116.0) rotate(-28) scale(0.9)"><path d="M0,-5.2 C1.2,-2.6 3.1,-0.6 3.1,1.5 A3.1,3.1 0 1 1 -3.1,1.5 C-3.1,-0.6 -1.2,-2.6 0,-5.2 Z" fill="url(#dropg)" stroke="#0b7fc4" stroke-width="0.4"/></g><g fill="#ffc21c" stroke="#f5a312" stroke-width="0.5"><polygon points="269.4,81.8 266.1,67.3 262.8,81.8"/><polygon points="273.2,83.7 274.3,74.4 268.4,81.8"/><polygon points="277.2,87.8 285.1,75.2 272.6,83.1"/><polygon points="278.6,91.9 285.9,86.1 276.6,87.1"/><polygon points="278.6,97.6 293.1,94.3 278.6,91.0"/><polygon points="276.6,101.5 285.9,102.5 278.6,96.7"/><polygon points="272.6,105.5 285.1,113.4 277.2,100.8"/><polygon points="268.4,106.8 274.3,114.2 273.2,104.9"/><polygon points="262.8,106.8 266.1,121.3 269.4,106.8"/><polygon points="258.9,104.9 257.8,114.2 263.7,106.8"/><polygon points="254.9,100.8 247.0,113.4 259.5,105.5"/><polygon points="253.5,96.7 246.2,102.5 255.5,101.5"/><polygon points="253.6,91.0 239.1,94.3 253.6,97.6"/><polygon points="255.5,87.1 246.2,86.1 253.5,91.9"/><polygon points="259.5,83.1 247.0,75.2 254.9,87.8"/><polygon points="263.7,81.8 257.8,74.4 258.9,83.7"/></g><circle cx="266.1" cy="94.3" r="14.7" fill="url(#sung)" stroke="#ef9a00" stroke-width="0.7"/><g transform="translate(255.3,86.4)"><g fill="#8c8c8c" stroke="#8c8c8c" stroke-width="1.1"><circle cx="7.02" cy="12.63" r="6.69"/><circle cx="18.33" cy="9.29" r="9.29"/><circle cx="27.78" cy="9.75" r="6.96"/><circle cx="33.14" cy="11.61" r="5.29"/><rect x="3.90" y="10.21" width="32.66" height="9.29" rx="5.11"/></g><g fill="url(#cgL)"><circle cx="7.02" cy="12.63" r="6.69"/><circle cx="18.33" cy="9.29" r="9.29"/><circle cx="27.78" cy="9.75" r="6.96"/><circle cx="33.14" cy="11.61" r="5.29"/><rect x="3.90" y="10.21" width="32.66" height="9.29" rx="5.11"/></g></g><g transform="translate(261.4,106.6) rotate(-28) scale(0.9)"><path d="M0,-5.2 C1.2,-2.6 3.1,-0.6 3.1,1.5 A3.1,3.1 0 1 1 -3.1,1.5 C-3.1,-0.6 -1.2,-2.6 0,-5.2 Z" fill="url(#dropg)" stroke="#0b7fc4" stroke-width="0.4"/></g><g transform="translate(275.4,106.6) rotate(-28) scale(0.9)"><path d="M0,-5.2 C1.2,-2.6 3.1,-0.6 3.1,1.5 A3.1,3.1 0 1 1 -3.1,1.5 C-3.1,-0.6 -1.2,-2.6 0,-5.2 Z" fill="url(#dropg)" stroke="#0b7fc4" stroke-width="0.4"/></g><g transform="translate(289.7,106.6) rotate(-28) scale(0.9)"><path d="M0,-5.2 C1.2,-2.6 3.1,-0.6 3.1,1.5 A3.1,3.1 0 1 1 -3.1,1.5 C-3.1,-0.6 -1.2,-2.6 0,-5.2 Z" fill="url(#dropg)" stroke="#0b7fc4" stroke-width="0.4"/></g><g transform="translate(268.6,116.6) rotate(-28) scale(0.9)"><path d="M0,-5.2 C1.2,-2.6 3.1,-0.6 3.1,1.5 A3.1,3.1 0 1 1 -3.1,1.5 C-3.1,-0.6 -1.2,-2.6 0,-5.2 Z" fill="url(#dropg)" stroke="#0b7fc4" stroke-width="0.4"/></g><g transform="translate(281.9,116.6) rotate(-28) scale(0.9)"><path d="M0,-5.2 C1.2,-2.6 3.1,-0.6 3.1,1.5 A3.1,3.1 0 1 1 -3.1,1.5 C-3.1,-0.6 -1.2,-2.6 0,-5.2 Z" fill="url(#dropg)" stroke="#0b7fc4" stroke-width="0.4"/></g><g fill="#ffc21c" stroke="#f5a312" stroke-width="0.5"><polygon points="405.9,81.8 402.6,67.3 399.3,81.8"/><polygon points="409.8,83.7 410.9,74.4 405.0,81.8"/><polygon points="413.8,87.8 421.7,75.2 409.1,83.1"/><polygon points="415.2,91.9 422.5,86.1 413.2,87.1"/><polygon points="415.1,97.6 429.6,94.3 415.1,91.0"/><polygon points="413.2,101.5 422.5,102.5 415.2,96.7"/><polygon points="409.1,105.5 421.7,113.4 413.8,100.8"/><polygon points="405.0,106.8 410.9,114.2 409.8,104.9"/><polygon points="399.3,106.8 402.6,121.3 405.9,106.8"/><polygon points="395.4,104.9 394.4,114.2 400.2,106.8"/><polygon points="391.5,100.8 383.5,113.4 396.1,105.5"/><polygon points="390.1,96.7 382.8,102.5 392.1,101.5"/><polygon points="390.1,91.0 375.6,94.3 390.1,97.6"/><polygon points="392.1,87.1 382.8,86.1 390.1,91.9"/><polygon points="396.1,83.1 383.5,75.2 391.5,87.8"/><polygon points="400.2,81.8 394.4,74.4 395.4,83.7"/></g><circle cx="402.6" cy="94.3" r="14.7" fill="url(#sung)" stroke="#ef9a00" stroke-width="0.7"/><g transform="translate(391.9,88.7)"><g fill="#8c8c8c" stroke="#8c8c8c" stroke-width="1.1"><circle cx="7.02" cy="12.95" r="6.86"/><circle cx="18.33" cy="9.52" r="9.52"/><circle cx="27.78" cy="10.00" r="7.14"/><circle cx="33.14" cy="11.90" r="5.43"/><rect x="3.90" y="10.48" width="32.66" height="9.52" rx="5.24"/></g><g fill="url(#cgL)"><circle cx="7.02" cy="12.95" r="6.86"/><circle cx="18.33" cy="9.52" r="9.52"/><circle cx="27.78" cy="10.00" r="7.14"/><circle cx="33.14" cy="11.90" r="5.43"/><rect x="3.90" y="10.48" width="32.66" height="9.52" rx="5.24"/></g></g><g fill="#ffc21c" stroke="#f5a312" stroke-width="0.5"><polygon points="542.5,81.8 539.2,67.3 535.9,81.8"/><polygon points="546.4,83.7 547.4,74.4 541.6,81.8"/><polygon points="550.4,87.8 558.3,75.2 545.7,83.1"/><polygon points="551.7,91.9 559.1,86.1 549.7,87.1"/><polygon points="551.7,97.6 566.2,94.3 551.7,91.0"/><polygon points="549.7,101.5 559.1,102.5 551.7,96.7"/><polygon points="545.7,105.5 558.3,113.4 550.4,100.8"/><polygon points="541.6,106.8 547.4,114.2 546.4,104.9"/><polygon points="535.9,106.8 539.2,121.3 542.5,106.8"/><polygon points="532.0,104.9 531.0,114.2 536.8,106.8"/><polygon points="528.0,100.8 520.1,113.4 532.7,105.5"/><polygon points="526.7,96.7 519.3,102.5 528.6,101.5"/><polygon points="526.7,91.0 512.2,94.3 526.7,97.6"/><polygon points="528.6,87.1 519.3,86.1 526.7,91.9"/><polygon points="532.7,83.1 520.1,75.2 528.0,87.8"/><polygon points="536.8,81.8 531.0,74.4 532.0,83.7"/></g><circle cx="539.2" cy="94.3" r="14.7" fill="url(#sung)" stroke="#ef9a00" stroke-width="0.7"/><g transform="translate(528.4,86.4)"><g fill="#8c8c8c" stroke="#8c8c8c" stroke-width="1.1"><circle cx="7.02" cy="12.63" r="6.69"/><circle cx="18.33" cy="9.29" r="9.29"/><circle cx="27.78" cy="9.75" r="6.96"/><circle cx="33.14" cy="11.61" r="5.29"/><rect x="3.90" y="10.21" width="32.66" height="9.29" rx="5.11"/></g><g fill="url(#cgL)"><circle cx="7.02" cy="12.63" r="6.69"/><circle cx="18.33" cy="9.29" r="9.29"/><circle cx="27.78" cy="9.75" r="6.96"/><circle cx="33.14" cy="11.61" r="5.29"/><rect x="3.90" y="10.21" width="32.66" height="9.29" rx="5.11"/></g></g><g transform="translate(534.5,106.6) rotate(-28) scale(0.9)"><path d="M0,-5.2 C1.2,-2.6 3.1,-0.6 3.1,1.5 A3.1,3.1 0 1 1 -3.1,1.5 C-3.1,-0.6 -1.2,-2.6 0,-5.2 Z" fill="url(#dropg)" stroke="#0b7fc4" stroke-width="0.4"/></g><g transform="translate(548.5,106.6) rotate(-28) scale(0.9)"><path d="M0,-5.2 C1.2,-2.6 3.1,-0.6 3.1,1.5 A3.1,3.1 0 1 1 -3.1,1.5 C-3.1,-0.6 -1.2,-2.6 0,-5.2 Z" fill="url(#dropg)" stroke="#0b7fc4" stroke-width="0.4"/></g><g transform="translate(562.8,106.6) rotate(-28) scale(0.9)"><path d="M0,-5.2 C1.2,-2.6 3.1,-0.6 3.1,1.5 A3.1,3.1 0 1 1 -3.1,1.5 C-3.1,-0.6 -1.2,-2.6 0,-5.2 Z" fill="url(#dropg)" stroke="#0b7fc4" stroke-width="0.4"/></g><g transform="translate(541.7,116.6) rotate(-28) scale(0.9)"><path d="M0,-5.2 C1.2,-2.6 3.1,-0.6 3.1,1.5 A3.1,3.1 0 1 1 -3.1,1.5 C-3.1,-0.6 -1.2,-2.6 0,-5.2 Z" fill="url(#dropg)" stroke="#0b7fc4" stroke-width="0.4"/></g><g transform="translate(555.0,116.6) rotate(-28) scale(0.9)"><path d="M0,-5.2 C1.2,-2.6 3.1,-0.6 3.1,1.5 A3.1,3.1 0 1 1 -3.1,1.5 C-3.1,-0.6 -1.2,-2.6 0,-5.2 Z" fill="url(#dropg)" stroke="#0b7fc4" stroke-width="0.4"/></g><polygon points="655.3,92.0 660.5,92.5 658.6,96.9 661.1,96.9 657.9,103.7 657.7,99.0 654.1,98.5" fill="#ffd21a" stroke="#f0a000" stroke-width="0.5"/><polygon points="689.7,100.5 694.9,101.0 693.0,105.4 695.5,105.4 692.3,112.2 692.1,107.5 688.5,107.0" fill="#ffd21a" stroke="#f0a000" stroke-width="0.5"/><g transform="translate(648.7,72.2)"><g fill="#8c8c8c" stroke="#8c8c8c" stroke-width="1.1"><circle cx="6.80" cy="13.73" r="7.27"/><circle cx="17.76" cy="10.10" r="10.10"/><circle cx="26.92" cy="10.60" r="7.57"/><circle cx="32.12" cy="12.62" r="5.75"/><rect x="3.78" y="11.10" width="31.64" height="10.10" rx="5.55"/></g><g fill="url(#cgL)"><circle cx="6.80" cy="13.73" r="7.27"/><circle cx="17.76" cy="10.10" r="10.10"/><circle cx="26.92" cy="10.60" r="7.57"/><circle cx="32.12" cy="12.62" r="5.75"/><rect x="3.78" y="11.10" width="31.64" height="10.10" rx="5.55"/></g></g><g transform="translate(664.9,78.8)"><g fill="#8c8c8c" stroke="#8c8c8c" stroke-width="1.1"><circle cx="7.00" cy="14.18" r="7.51"/><circle cx="18.28" cy="10.43" r="10.43"/><circle cx="27.71" cy="10.95" r="7.82"/><circle cx="33.06" cy="13.04" r="5.94"/><rect x="3.89" y="11.47" width="32.57" height="10.43" rx="5.74"/></g><g fill="url(#cgL)"><circle cx="7.00" cy="14.18" r="7.51"/><circle cx="18.28" cy="10.43" r="10.43"/><circle cx="27.71" cy="10.95" r="7.82"/><circle cx="33.06" cy="13.04" r="5.94"/><rect x="3.89" y="11.47" width="32.57" height="10.43" rx="5.74"/></g></g><polygon points="679.8,77.0 668.1,97.4 675.4,95.5 672.1,116.1 685.6,92.5 678.4,93.9" fill="url(#boltg)" stroke="#f0a000" stroke-width="0.7"/><g fill="#ffc21c" stroke="#f5a312" stroke-width="0.5"><polygon points="815.6,81.8 812.3,67.3 809.0,81.8"/><polygon points="819.5,83.7 820.6,74.4 814.7,81.8"/><polygon points="823.5,87.8 831.4,75.2 818.8,83.1"/><polygon points="824.9,91.9 832.2,86.1 822.9,87.1"/><polygon points="824.8,97.6 839.3,94.3 824.8,91.0"/><polygon points="822.9,101.5 832.2,102.5 824.9,96.7"/><polygon points="818.8,105.5 831.4,113.4 823.5,100.8"/><polygon points="814.7,106.8 820.6,114.2 819.5,104.9"/><polygon points="809.0,106.8 812.3,121.3 815.6,106.8"/><polygon points="805.1,104.9 804.1,114.2 810.0,106.8"/><polygon points="801.2,100.8 793.2,113.4 805.8,105.5"/><polygon points="799.8,96.7 792.5,102.5 801.8,101.5"/><polygon points="799.8,91.0 785.3,94.3 799.8,97.6"/><polygon points="801.8,87.1 792.5,86.1 799.8,91.9"/><polygon points="805.8,83.1 793.2,75.2 801.2,87.8"/><polygon points="810.0,81.8 804.1,74.4 805.1,83.7"/></g><circle cx="812.3" cy="94.3" r="14.7" fill="url(#sung)" stroke="#ef9a00" stroke-width="0.7"/><g transform="translate(801.5,86.4)"><g fill="#8c8c8c" stroke="#8c8c8c" stroke-width="1.1"><circle cx="7.02" cy="12.63" r="6.69"/><circle cx="18.33" cy="9.29" r="9.29"/><circle cx="27.78" cy="9.75" r="6.96"/><circle cx="33.14" cy="11.61" r="5.29"/><rect x="3.90" y="10.21" width="32.66" height="9.29" rx="5.11"/></g><g fill="url(#cgL)"><circle cx="7.02" cy="12.63" r="6.69"/><circle cx="18.33" cy="9.29" r="9.29"/><circle cx="27.78" cy="9.75" r="6.96"/><circle cx="33.14" cy="11.61" r="5.29"/><rect x="3.90" y="10.21" width="32.66" height="9.29" rx="5.11"/></g></g><g transform="translate(807.6,106.6) rotate(-28) scale(0.9)"><path d="M0,-5.2 C1.2,-2.6 3.1,-0.6 3.1,1.5 A3.1,3.1 0 1 1 -3.1,1.5 C-3.1,-0.6 -1.2,-2.6 0,-5.2 Z" fill="url(#dropg)" stroke="#0b7fc4" stroke-width="0.4"/></g><g transform="translate(821.6,106.6) rotate(-28) scale(0.9)"><path d="M0,-5.2 C1.2,-2.6 3.1,-0.6 3.1,1.5 A3.1,3.1 0 1 1 -3.1,1.5 C-3.1,-0.6 -1.2,-2.6 0,-5.2 Z" fill="url(#dropg)" stroke="#0b7fc4" stroke-width="0.4"/></g><g transform="translate(835.9,106.6) rotate(-28) scale(0.9)"><path d="M0,-5.2 C1.2,-2.6 3.1,-0.6 3.1,1.5 A3.1,3.1 0 1 1 -3.1,1.5 C-3.1,-0.6 -1.2,-2.6 0,-5.2 Z" fill="url(#dropg)" stroke="#0b7fc4" stroke-width="0.4"/></g><g transform="translate(814.8,116.6) rotate(-28) scale(0.9)"><path d="M0,-5.2 C1.2,-2.6 3.1,-0.6 3.1,1.5 A3.1,3.1 0 1 1 -3.1,1.5 C-3.1,-0.6 -1.2,-2.6 0,-5.2 Z" fill="url(#dropg)" stroke="#0b7fc4" stroke-width="0.4"/></g><g transform="translate(828.1,116.6) rotate(-28) scale(0.9)"><path d="M0,-5.2 C1.2,-2.6 3.1,-0.6 3.1,1.5 A3.1,3.1 0 1 1 -3.1,1.5 C-3.1,-0.6 -1.2,-2.6 0,-5.2 Z" fill="url(#dropg)" stroke="#0b7fc4" stroke-width="0.4"/></g><g fill="#ffc21c" stroke="#f5a312" stroke-width="0.5"><polygon points="952.2,81.8 948.9,67.3 945.6,81.8"/><polygon points="956.1,83.7 957.1,74.4 951.3,81.8"/><polygon points="960.1,87.8 968.0,75.2 955.4,83.1"/><polygon points="961.4,91.9 968.8,86.1 959.5,87.1"/><polygon points="961.4,97.6 975.9,94.3 961.4,91.0"/><polygon points="959.5,101.5 968.8,102.5 961.4,96.7"/><polygon points="955.4,105.5 968.0,113.4 960.1,100.8"/><polygon points="951.3,106.8 957.1,114.2 956.1,104.9"/><polygon points="945.6,106.8 948.9,121.3 952.2,106.8"/><polygon points="941.7,104.9 940.7,114.2 946.5,106.8"/><polygon points="937.7,100.8 929.8,113.4 942.4,105.5"/><polygon points="936.4,96.7 929.0,102.5 938.4,101.5"/><polygon points="936.4,91.0 921.9,94.3 936.4,97.6"/><polygon points="938.4,87.1 929.0,86.1 936.4,91.9"/><polygon points="942.4,83.1 929.8,75.2 937.7,87.8"/><polygon points="946.5,81.8 940.7,74.4 941.7,83.7"/></g><circle cx="948.9" cy="94.3" r="14.7" fill="url(#sung)" stroke="#ef9a00" stroke-width="0.7"/><g transform="translate(938.1,86.4)"><g fill="#8c8c8c" stroke="#8c8c8c" stroke-width="1.1"><circle cx="7.02" cy="12.63" r="6.69"/><circle cx="18.33" cy="9.29" r="9.29"/><circle cx="27.78" cy="9.75" r="6.96"/><circle cx="33.14" cy="11.61" r="5.29"/><rect x="3.90" y="10.21" width="32.66" height="9.29" rx="5.11"/></g><g fill="url(#cgL)"><circle cx="7.02" cy="12.63" r="6.69"/><circle cx="18.33" cy="9.29" r="9.29"/><circle cx="27.78" cy="9.75" r="6.96"/><circle cx="33.14" cy="11.61" r="5.29"/><rect x="3.90" y="10.21" width="32.66" height="9.29" rx="5.11"/></g></g><g transform="translate(944.2,106.6) rotate(-28) scale(0.9)"><path d="M0,-5.2 C1.2,-2.6 3.1,-0.6 3.1,1.5 A3.1,3.1 0 1 1 -3.1,1.5 C-3.1,-0.6 -1.2,-2.6 0,-5.2 Z" fill="url(#dropg)" stroke="#0b7fc4" stroke-width="0.4"/></g><g transform="translate(958.2,106.6) rotate(-28) scale(0.9)"><path d="M0,-5.2 C1.2,-2.6 3.1,-0.6 3.1,1.5 A3.1,3.1 0 1 1 -3.1,1.5 C-3.1,-0.6 -1.2,-2.6 0,-5.2 Z" fill="url(#dropg)" stroke="#0b7fc4" stroke-width="0.4"/></g><g transform="translate(972.5,106.6) rotate(-28) scale(0.9)"><path d="M0,-5.2 C1.2,-2.6 3.1,-0.6 3.1,1.5 A3.1,3.1 0 1 1 -3.1,1.5 C-3.1,-0.6 -1.2,-2.6 0,-5.2 Z" fill="url(#dropg)" stroke="#0b7fc4" stroke-width="0.4"/></g><g transform="translate(951.4,116.6) rotate(-28) scale(0.9)"><path d="M0,-5.2 C1.2,-2.6 3.1,-0.6 3.1,1.5 A3.1,3.1 0 1 1 -3.1,1.5 C-3.1,-0.6 -1.2,-2.6 0,-5.2 Z" fill="url(#dropg)" stroke="#0b7fc4" stroke-width="0.4"/></g><g transform="translate(964.7,116.6) rotate(-28) scale(0.9)"><path d="M0,-5.2 C1.2,-2.6 3.1,-0.6 3.1,1.5 A3.1,3.1 0 1 1 -3.1,1.5 C-3.1,-0.6 -1.2,-2.6 0,-5.2 Z" fill="url(#dropg)" stroke="#0b7fc4" stroke-width="0.4"/></g></g>
</svg>

</body></html>
